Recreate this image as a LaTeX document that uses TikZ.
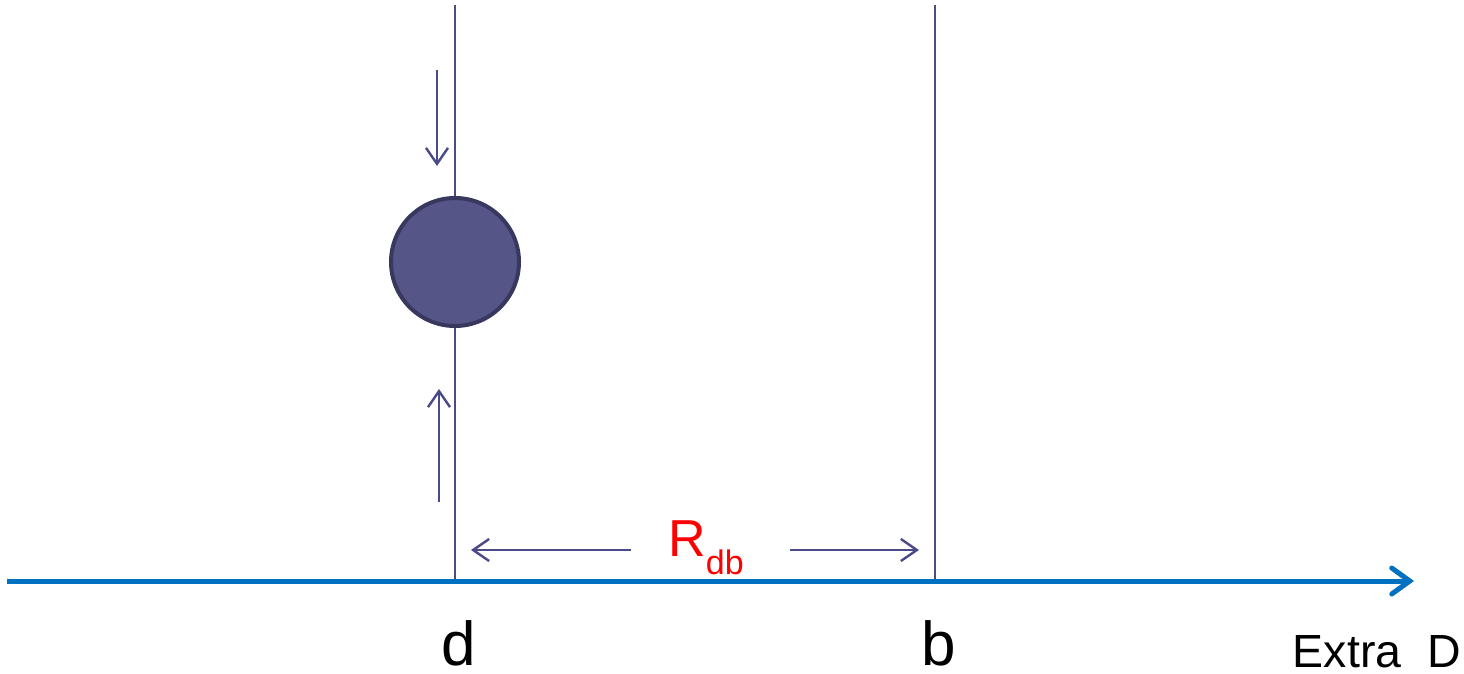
\documentclass[tikz,border=0pt]{standalone}
\usepackage{fontspec}
\setmainfont{Liberation Sans}
\usetikzlibrary{arrows.meta}
\definecolor{wall}{HTML}{4A4A88}
\definecolor{ballfill}{HTML}{555588}
\definecolor{balledge}{HTML}{38385F}
\definecolor{axisblue}{HTML}{0070C0}
\tikzset{
  wallline/.style={draw=wall, line width=1.6pt},
  motion/.style={draw=wall, line width=2.4pt, -{Straight Barb[length=16pt,width=22pt,line width=2.4pt]}},
  axisline/.style={draw=axisblue, line width=5pt, -{Straight Barb[length=18pt,width=26pt,line width=5pt,line cap=round]}},
  lbl/.style={inner sep=0pt, font=\fontsize{62}{70}\selectfont},
}
\begin{document}
\begin{tikzpicture}[x=1pt,y=-1pt]
\useasboundingbox (0,0) rectangle (1464,674);
% coordinates
\coordinate (dtop) at (455,5);
\coordinate (dbot) at (455,580);
\coordinate (btop) at (935,5);
\coordinate (bbot) at (935,580);
\coordinate (axs) at (7,581);
\coordinate (axe) at (1414,581);
\coordinate (ds) at (437,70);
\coordinate (de) at (437,166);
\coordinate (us) at (439,502);
\coordinate (ue) at (439,389);
\coordinate (ls) at (631,550);
\coordinate (le) at (471,550);
\coordinate (rs) at (790,550);
\coordinate (re) at (919,550);
% walls
\draw[wallline] (dtop) -- (dbot);
\draw[wallline] (btop) -- (bbot);
% ball
\node[circle, minimum size=128pt, inner sep=0pt, fill=ballfill, draw=balledge, line width=4pt] (ball) at (455,262) {};
% motion arrows
\draw[motion] (ds) -- (de);
\draw[motion] (us) -- (ue);
\draw[motion] (ls) -- (le);
\draw[motion] (rs) -- (re);
% axis
\draw[axisline] (axs) -- (axe);
% labels
\node[inner sep=0pt, text=red, font=\fontsize{52}{60}\selectfont] (rdb) at (706,548) {R\raisebox{-0.35em}{\fontsize{34}{40}\selectfont db}};
\node[lbl, anchor=base] (dl) at (459,665) {d};
\node[lbl, anchor=base] (bl) at (939,665) {b};
\node[inner sep=0pt, anchor=base east, font=\fontsize{46.5}{52}\selectfont] (ext) at (1461,667) {Extra\ \ D};
\end{tikzpicture}
\end{document}
